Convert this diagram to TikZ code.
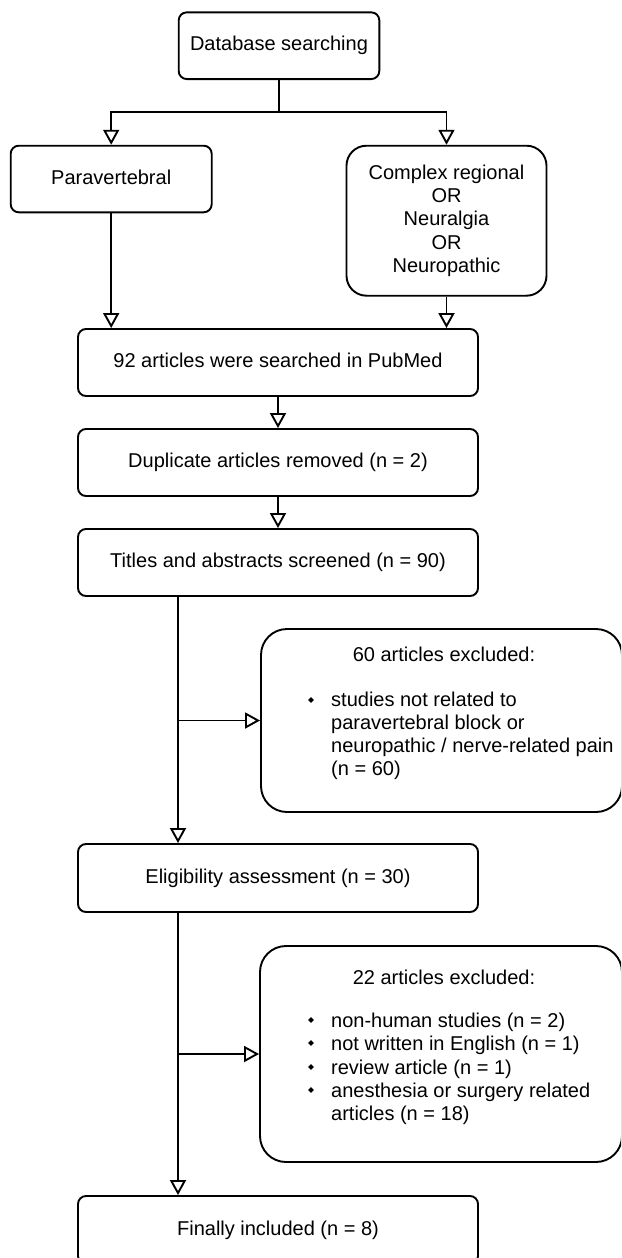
\documentclass[tikz,border=0pt]{standalone}
\usepackage{fontspec}
\setmainfont{Liberation Sans}
\usetikzlibrary{arrows.meta}
\newcommand{\bodyfnt}{\fontsize{20}{23.2}\selectfont}
\tikzset{
  box/.style={draw, line width=1.9pt, rounded corners=8pt, align=center, font=\bodyfnt, inner sep=0pt, text height=14pt, text depth=4pt},
  bigbox/.style={draw, line width=1.9pt, rounded corners=20pt, align=center, font=\bodyfnt, inner sep=0pt},
  exbox/.style={draw, line width=1.9pt, rounded corners=26pt, inner sep=0pt},
  arr/.style={line width=1.9pt, -{Triangle[open, length=15pt, width=16pt]}},
  ln/.style={line width=1.9pt},
  lt/.style={anchor=base west, inner sep=0pt, font=\bodyfnt},
  ttl/.style={anchor=base, inner sep=0pt, font=\bodyfnt},
  blt/.style={fill=black}
}
\begin{document}
\begin{tikzpicture}[x=1pt,y=1pt]
\useasboundingbox (0,0) rectangle (621,-1258);
\clip (0,0) rectangle (621,-1258);
\coordinate (spine) at (178,0);
% boxes
\node[box, minimum width=200.6pt, minimum height=66.7pt] (db) at (279,-45.7) {Database searching};
\node[box, minimum width=201pt, minimum height=66.6pt] (para) at (111.2,-179) {Paravertebral};
\node[bigbox, minimum width=200pt, minimum height=150pt] (complex) at (446.5,-220.7) {Complex regional\\OR\\Neuralgia\\OR\\Neuropathic};
\node[box, minimum width=400pt, minimum height=67pt] (s92) at (278,-362.5) {92 articles were searched in PubMed};
\node[box, minimum width=400pt, minimum height=67pt] (dup) at (278,-462.5) {Duplicate articles removed (n = 2)};
\node[box, minimum width=400pt, minimum height=67pt] (titles) at (278,-562.5) {Titles and abstracts screened (n = 90)};
\node[exbox, minimum width=361pt, minimum height=183pt] (ex60) at (441.5,-720.5) {};
\node[box, minimum width=400pt, minimum height=68pt] (elig) at (278,-878) {Eligibility assessment (n = 30)};
\node[exbox, minimum width=362pt, minimum height=216pt] (ex22) at (441,-1054) {};
\node[box, minimum width=400pt, minimum height=68pt] (final) at (278,-1230) {Finally included (n = 8)};
% texts of exclusion boxes
\node[ttl] (t60) at (444,-661) {60 articles excluded:};
\node[lt] (a1) at (331,-706) {studies not related to};
\node[lt] (a2) at (331,-729) {paravertebral block or};
\node[lt] (a3) at (331,-752) {neuropathic / nerve-related pain};
\node[lt] (a4) at (331,-775) {(n = 60)};
\node[ttl] (t22) at (444,-984) {22 articles excluded:};
\node[lt] (b1) at (331,-1027) {non-human studies (n = 2)};
\node[lt] (b2) at (331,-1050) {not written in English (n = 1)};
\node[lt] (b3) at (331,-1074) {review article (n = 1)};
\node[lt] (b4) at (331,-1097) {anesthesia or surgery related};
\node[lt] (b5) at (331,-1120) {articles (n = 18)};
\foreach \y in {700,1020,1043,1067,1090}
  \fill[blt] (311,-\y) +(0,2.8) -- +(2.8,0) -- +(0,-2.8) -- +(-2.8,0) -- cycle;
% connectors
\coordinate (j) at (279,-111.7);
\draw[ln] (db.south) -- (j);
\draw[arr] (j) -| (para.north);
\draw[arr] (j) -| (complex.north);
\draw[arr] (para.south) -- (para.south |- s92.north);
\draw[arr] (complex.south) -- (complex.south |- s92.north);
\draw[arr] (s92.south) -- (dup.north);
\draw[arr] (dup.south) -- (titles.north);
\draw[arr] (titles.south -| spine) -- (elig.north -| spine);
\draw[arr] (ex60.west -| spine) -- (ex60.west);
\draw[arr] (elig.south -| spine) -- (final.north -| spine);
\draw[arr] (ex22.west -| spine) -- (ex22.west);
\end{tikzpicture}
\end{document}
